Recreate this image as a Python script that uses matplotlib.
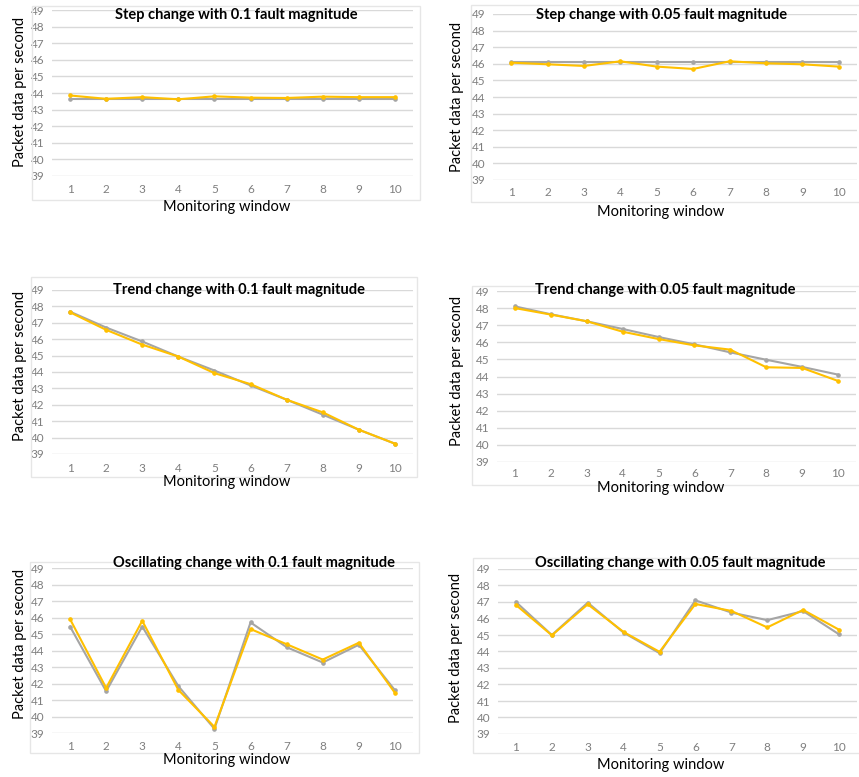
import matplotlib
matplotlib.use("Agg")
import matplotlib.pyplot as plt
from matplotlib.patches import Rectangle

plt.rcParams["font.family"] = ["Lato", "DejaVu Sans"]

W, H = 859, 777

windows = list(range(1, 11))
y_ticks = list(range(39, 50))

titles = [
    "Step change with 0.1 fault magnitude",
    "Step change with 0.05 fault magnitude",
    "Trend change with 0.1 fault magnitude",
    "Trend change with 0.05 fault magnitude",
    "Oscillating change with 0.1 fault magnitude",
    "Oscillating change with 0.05 fault magnitude",
]
x_label = "Monitoring window"
y_label = "Packet data per second"

# grey series (reference) and yellow series (faulty) for each panel
step_01_grey = [43.62, 43.62, 43.62, 43.62, 43.62, 43.62, 43.62, 43.62, 43.62, 43.62]
step_01_yellow = [43.85, 43.65, 43.75, 43.62, 43.8, 43.72, 43.7, 43.78, 43.75, 43.75]
step_005_grey = [46.1, 46.1, 46.1, 46.1, 46.1, 46.1, 46.1, 46.1, 46.1, 46.1]
step_005_yellow = [46.07, 45.97, 45.87, 46.15, 45.83, 45.69, 46.15, 46.03, 45.97, 45.83]
trend_01_grey = [47.68, 46.71, 45.86, 44.94, 44.09, 43.18, 42.31, 41.4, 40.48, 39.63]
trend_01_yellow = [47.64, 46.57, 45.67, 44.94, 43.93, 43.26, 42.31, 41.54, 40.48, 39.63]
trend_005_grey = [48.1, 47.64, 47.23, 46.78, 46.31, 45.88, 45.41, 44.98, 44.56, 44.11]
trend_005_yellow = [48.0, 47.62, 47.23, 46.62, 46.19, 45.82, 45.57, 44.54, 44.5, 43.74]
osc_01_grey = [45.45, 41.53, 45.45, 41.84, 39.25, 45.7, 44.2, 43.27, 44.35, 41.59]
osc_01_yellow = [45.9, 41.73, 45.8, 41.61, 39.37, 45.3, 44.38, 43.45, 44.47, 41.43]
osc_005_grey = [47.0, 45.0, 46.96, 45.14, 43.9, 47.1, 46.36, 45.9, 46.45, 45.04]
osc_005_yellow = [46.82, 44.98, 46.86, 45.18, 43.98, 46.88, 46.46, 45.46, 46.52, 45.32]

series = [
    (step_01_grey, step_01_yellow),
    (step_005_grey, step_005_yellow),
    (trend_01_grey, trend_01_yellow),
    (trend_005_grey, trend_005_yellow),
    (osc_01_grey, osc_01_yellow),
    (osc_005_grey, osc_005_yellow),
]

# layout in pixels: plot area (x0, x1, top, bottom), chart frame, title/label anchors
plot_px = [
    (52, 413, 10, 176),
    (493, 857, 14, 180),
    (52, 413, 290, 454),
    (497, 856, 291, 462),
    (52, 413, 568, 733),
    (498, 857, 569, 734),
]
frame_px = [
    (33, 421, 6, 200),
    (472, 875, 5, 202),
    (32, 418, 277, 477),
    (473, 875, 286, 485),
    (31, 420, 562, 753),
    (474, 875, 558, 753),
]
xtick_pad = [6.0, 5.2, 6.8, 4.2, 6.0, 6.0]
title_px = [(236, 15), (662, 15), (239, 290), (665, 290), (254, 563), (680, 563)]
xlabel_px = [(227, 207), (661, 212), (227, 482), (661, 488), (227, 760), (661, 765)]
ylabel_px = [(20, 92), (457, 97), (20, 366), (457, 371), (20, 644), (456, 648)]

GREY = "#A5A5A5"
YELLOW = "#FFC000"
GRID = "#D9D9D9"
TICK = "#7F7F7F"

fig = plt.figure(figsize=(W / 100, H / 100), dpi=100)


def fx(px):
    return px / W


def fy(py):
    return 1 - py / H


for i in range(6):
    x0, x1, top, bot = plot_px[i]
    fl, fr, ft, fb = frame_px[i]
    fig.patches.append(Rectangle((fx(fl - 1), fy(fb)), fx(fr - fl), (fb - ft) / H,
                                 transform=fig.transFigure, fill=False,
                                 edgecolor="#E6E6E6", linewidth=1.0, zorder=0))

    ax = fig.add_axes([fx(x0), fy(bot), fx(x1 - x0), (bot - top) / H])
    ax.set_facecolor("none")
    grey, yellow = series[i]
    ax.plot(windows, grey, color=GREY, lw=1.5, marker="o", ms=2.3, zorder=3)
    ax.plot(windows, yellow, color=YELLOW, lw=1.5, marker="o", ms=2.3, zorder=4)

    ax.set_xlim(0.5, 10.5)
    ax.set_ylim(39, 49)
    ax.set_xticks(windows)
    ax.set_yticks(y_ticks)
    ax.grid(axis="y", color=GRID, lw=1.0, zorder=0)
    ax.tick_params(axis="both", length=0, labelsize=8.5, labelcolor=TICK)
    ax.tick_params(axis="x", pad=xtick_pad[i])
    ax.tick_params(axis="y", pad=5.5)
    for s in ax.spines.values():
        s.set_visible(False)

    tx, ty = title_px[i]
    fig.text(fx(tx), fy(ty), titles[i], ha="center", va="center",
             fontsize=10.5, fontweight="bold", color="black")
    lx, ly = xlabel_px[i]
    fig.text(fx(lx), fy(ly), x_label, ha="center", va="center",
             fontsize=10.5, color="black")
    yx, yy = ylabel_px[i]
    fig.text(fx(yx), fy(yy), y_label, ha="center", va="center",
             rotation=90, fontsize=10.5, color="black")

fig.savefig("out.png", dpi=100)
